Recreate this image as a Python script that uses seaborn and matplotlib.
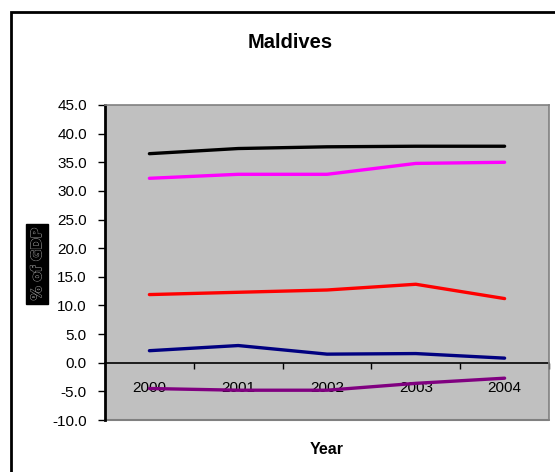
import matplotlib
matplotlib.use("Agg")
import matplotlib.pyplot as plt
import matplotlib.patheffects as pe
from matplotlib.patches import Rectangle
from matplotlib.ticker import FixedLocator, FormatStrFormatter
import pandas as pd
import seaborn as sns

years = [2000, 2001, 2002, 2003, 2004]
series_a = [36.5, 37.4, 37.7, 37.8, 37.8]
series_b = [32.2, 32.9, 32.9, 34.8, 35.0]
series_c = [11.9, 12.3, 12.7, 13.7, 11.2]
series_d = [2.1, 3.0, 1.5, 1.6, 0.8]
series_e = [-4.5, -4.8, -4.8, -3.6, -2.7]
series_names = ["Series A", "Series B", "Series C", "Series D", "Series E"]
series_colors = ["#000000", "#FF00FF", "#FF0000", "#000080", "#800080"]
y_ticks = [-10, -5, 0, 5, 10, 15, 20, 25, 30, 35, 40, 45]

df = pd.concat(
    [pd.DataFrame({"Year": years, "value": vals, "series": name})
     for name, vals in zip(series_names,
                           [series_a, series_b, series_c, series_d, series_e])],
    ignore_index=True,
)

sns.set_style("white")
plt.rcParams["font.family"] = ["Liberation Sans", "DejaVu Sans"]
plt.rcParams["text.color"] = "black"
plt.rcParams["xtick.labelcolor"] = "black"
plt.rcParams["ytick.labelcolor"] = "black"

fig = plt.figure(figsize=(5.55, 4.72), dpi=100)
ax = fig.add_axes([105 / 555, 52 / 472, 444 / 555, 315 / 472])
ax.set_facecolor("#C0C0C0")

sns.lineplot(data=df, x="Year", y="value", hue="series",
             palette=dict(zip(series_names, series_colors)),
             linewidth=2.4, legend=False, ax=ax, zorder=3)

ax.set_xlim(1999.5, 2004.5)
ax.set_ylim(-10, 45)

# y axis
ax.yaxis.set_major_locator(FixedLocator(y_ticks))
ax.yaxis.set_major_formatter(FormatStrFormatter("%.1f"))
ax.tick_params(axis="y", direction="out", length=5, width=1, color="black",
               pad=8, labelsize=11, labelcolor="black", left=True)

# category axis sits on the zero line, ticks between categories
ax.spines["bottom"].set_position(("data", 0))
ax.spines["bottom"].set_color("black")
ax.spines["bottom"].set_linewidth(1.2)
ax.spines["bottom"].set_zorder(2)
ax.xaxis.set_major_locator(FixedLocator(years))
ax.xaxis.set_minor_locator(FixedLocator([y + 0.5 for y in years]))
ax.set_xticklabels([str(y) for y in years])
ax.tick_params(axis="x", which="major", length=0, pad=13, labelsize=11,
               labelcolor="black", bottom=True)
ax.tick_params(axis="x", which="minor", direction="out", length=4, width=1,
               color="black", bottom=True)

ax.spines["left"].set_color("black")
ax.spines["left"].set_linewidth(2)
for side in ("top", "right"):
    ax.spines[side].set_color("#808080")
    ax.spines[side].set_linewidth(1.2)
ax.axhline(-10, color="#808080", linewidth=1.5, zorder=1, clip_on=False)

ax.set_xlabel("")
ax.set_ylabel("")

fig.text(290 / 555, 1 - 43 / 472, "Maldives", ha="center", va="center",
         fontsize=14.5, fontweight="bold", color="black")
fig.text(327 / 555, 1 - 449 / 472, "Year", ha="center", va="center",
         fontsize=11.5, fontweight="bold", color="black")
fig.text(37 / 555, 1 - 264 / 472, "% of GDP", ha="center", va="center",
         rotation=90, fontsize=10, fontweight="bold", color="black",
         family=["DejaVu Sans"],
         bbox=dict(facecolor="black", edgecolor="black", pad=3),
         path_effects=[pe.withStroke(linewidth=1.0, foreground="#8a8a8a"),
                       pe.Normal()])

# chart frame
fig.patches.append(Rectangle((11 / 555, -0.1), 1.2, 1 - 12 / 472 + 0.1,
                             transform=fig.transFigure, fill=False,
                             edgecolor="black", linewidth=2))

fig.savefig("out.png", dpi=100)
